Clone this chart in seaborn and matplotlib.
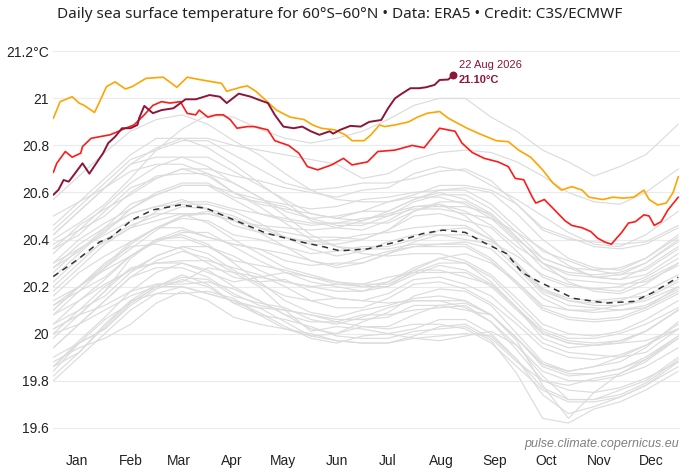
import matplotlib
matplotlib.use("Agg")
import matplotlib.pyplot as plt
import seaborn as sns
import pandas as pd

# ---------------- data ----------------
month_labels = ["Jan", "Feb", "Mar", "Apr", "May", "Jun", "Jul", "Aug", "Sep", "Oct", "Nov", "Dec"]
month_tick_days = [14, 45, 73, 104, 134, 165, 195, 226, 257, 287, 318, 348]
y_ticks = [19.6, 19.8, 20.0, 20.2, 20.4, 20.6, 20.8, 21.0, 21.2]
y_tick_labels = ["19.6", "19.8", "20", "20.2", "20.4", "20.6", "20.8", "21", "21.2°C"]

grey_days = [0, 15, 30, 45, 60, 75, 90, 105, 120, 135, 150, 165, 180, 195, 210, 225, 240, 255, 270, 285, 300, 315, 330, 345, 364]
grey_years = list(range(1979, 2024))
grey_values = [
    [19.80,19.90,20.00,20.10,20.17,20.20,20.17,20.14,20.11,20.05,19.99,19.97,19.96,19.96,19.98,19.99,20.00,19.99,19.89,19.74,19.66,19.69,19.73,19.78,19.86],
    [19.84,19.96,20.02,20.13,20.20,20.25,20.21,20.13,20.08,20.06,20.03,19.99,19.98,19.98,20.01,20.02,20.03,19.97,19.83,19.64,19.62,19.68,19.71,19.76,19.84],
    [19.86,19.92,20.04,20.14,20.21,20.22,20.28,20.26,20.20,20.10,20.01,20.03,20.02,20.00,19.98,19.97,19.99,20.01,19.95,19.82,19.72,19.72,19.76,19.80,19.90],
    [19.90,19.96,20.02,20.12,20.19,20.23,20.20,20.13,20.11,20.10,20.08,20.06,20.06,20.07,20.12,20.12,20.10,20.08,19.97,19.78,19.64,19.75,19.83,19.89,19.99],
    [20.02,20.08,20.12,20.18,20.26,20.30,20.27,20.20,20.14,20.08,20.02,20.00,20.03,20.02,20.04,20.04,20.02,19.96,19.86,19.76,19.71,19.71,19.73,19.78,19.88],
    [19.82,19.92,20.03,20.14,20.17,20.17,20.18,20.15,20.08,20.02,19.99,20.00,20.05,20.09,20.16,20.19,20.18,20.12,20.00,19.88,19.84,19.86,19.88,19.94,20.05],
    [19.88,19.94,19.98,20.04,20.13,20.18,20.14,20.07,20.04,20.02,20.00,19.97,19.96,19.96,19.99,20.03,20.04,19.98,19.88,19.80,19.76,19.75,19.77,19.81,19.88],
    [19.86,19.97,20.07,20.18,20.21,20.21,20.22,20.19,20.14,20.08,20.05,20.05,20.08,20.08,20.10,20.11,20.12,20.05,19.93,19.80,19.78,19.81,19.83,19.88,19.98],
    [19.94,20.04,20.14,20.24,20.31,20.35,20.32,20.26,20.24,20.22,20.20,20.18,20.18,20.22,20.27,20.27,20.24,20.21,20.11,19.98,19.94,19.95,19.96,19.97,20.02],
    [20.00,20.04,20.10,20.16,20.20,20.20,20.17,20.14,20.09,20.03,19.98,19.96,19.99,20.00,20.02,20.06,20.06,20.00,19.89,19.77,19.72,19.72,19.74,19.79,19.89],
    [19.86,19.96,20.06,20.13,20.20,20.24,20.23,20.16,20.13,20.11,20.06,20.04,20.07,20.11,20.14,20.14,20.14,20.08,19.98,19.86,19.82,19.83,19.85,19.89,19.98],
    [19.98,20.08,20.18,20.32,20.40,20.42,20.38,20.30,20.22,20.14,20.09,20.07,20.10,20.12,20.15,20.16,20.14,20.08,19.98,19.87,19.84,19.86,19.90,19.95,20.02],
    [20.04,20.10,20.16,20.26,20.33,20.37,20.34,20.27,20.21,20.16,20.14,20.15,20.14,20.13,20.14,20.14,20.11,20.05,19.95,19.84,19.80,19.80,19.82,19.86,19.94],
    [19.94,20.04,20.14,20.24,20.28,20.28,20.24,20.17,20.12,20.10,20.08,20.05,20.03,20.03,20.08,20.12,20.13,20.08,19.98,19.87,19.83,19.83,19.85,19.90,19.99],
    [20.00,20.10,20.20,20.27,20.30,20.31,20.31,20.28,20.25,20.20,20.14,20.11,20.11,20.15,20.21,20.22,20.19,20.13,20.04,19.94,19.90,19.89,19.91,19.95,20.04],
    [20.04,20.14,20.21,20.27,20.33,20.37,20.37,20.33,20.27,20.22,20.20,20.21,20.21,20.21,20.26,20.30,20.30,20.24,20.13,20.02,19.98,19.98,20.00,20.04,20.11],
    [20.10,20.20,20.30,20.37,20.38,20.36,20.30,20.24,20.22,20.23,20.18,20.15,20.14,20.17,20.23,20.24,20.21,20.16,20.06,19.96,19.92,19.91,19.90,19.92,20.02],
    [20.02,20.08,20.18,20.28,20.30,20.30,20.26,20.22,20.24,20.26,20.24,20.22,20.20,20.22,20.28,20.32,20.30,20.22,20.11,20.00,19.96,19.95,19.96,20.01,20.10],
    [20.08,20.18,20.28,20.38,20.45,20.50,20.51,20.48,20.46,20.45,20.44,20.45,20.48,20.52,20.57,20.60,20.57,20.51,20.41,20.30,20.25,20.24,20.25,20.30,20.40],
    [20.42,20.52,20.62,20.72,20.75,20.75,20.71,20.64,20.58,20.50,20.42,20.37,20.34,20.33,20.34,20.34,20.31,20.25,20.15,20.04,20.00,19.99,20.01,20.06,20.14],
    [20.12,20.18,20.24,20.33,20.40,20.41,20.37,20.31,20.29,20.27,20.24,20.21,20.20,20.20,20.25,20.29,20.27,20.21,20.11,20.01,19.97,19.96,19.97,20.01,20.10],
    [20.10,20.20,20.27,20.33,20.39,20.43,20.43,20.37,20.31,20.26,20.22,20.20,20.18,20.20,20.27,20.32,20.34,20.30,20.22,20.12,20.10,20.10,20.12,20.14,20.20],
    [20.16,20.26,20.33,20.39,20.45,20.49,20.48,20.42,20.40,20.37,20.31,20.29,20.32,20.35,20.37,20.38,20.39,20.36,20.26,20.15,20.10,20.09,20.10,20.12,20.19],
    [20.20,20.30,20.40,20.46,20.50,20.54,20.53,20.50,20.45,20.43,20.41,20.41,20.40,20.44,20.50,20.51,20.48,20.45,20.35,20.24,20.20,20.19,20.18,20.23,20.30],
    [20.28,20.38,20.45,20.51,20.54,20.57,20.53,20.46,20.43,20.41,20.38,20.38,20.40,20.44,20.52,20.55,20.50,20.41,20.29,20.18,20.14,20.13,20.14,20.18,20.25],
    [20.22,20.32,20.39,20.45,20.48,20.51,20.51,20.48,20.43,20.37,20.34,20.35,20.37,20.37,20.40,20.44,20.45,20.40,20.30,20.19,20.15,20.14,20.15,20.16,20.23],
    [20.24,20.34,20.44,20.51,20.54,20.55,20.55,20.52,20.47,20.41,20.36,20.33,20.35,20.39,20.42,20.42,20.40,20.38,20.28,20.17,20.12,20.11,20.10,20.11,20.18],
    [20.14,20.20,20.29,20.39,20.45,20.45,20.41,20.38,20.36,20.34,20.31,20.28,20.30,20.34,20.39,20.42,20.42,20.39,20.33,20.25,20.21,20.19,20.20,20.24,20.32],
    [20.30,20.36,20.42,20.48,20.51,20.51,20.47,20.40,20.34,20.28,20.25,20.22,20.21,20.24,20.26,20.26,20.26,20.20,20.10,20.00,19.96,19.95,19.97,20.01,20.10],
    [20.08,20.14,20.23,20.33,20.40,20.44,20.41,20.38,20.36,20.31,20.29,20.30,20.30,20.34,20.37,20.37,20.37,20.31,20.21,20.10,20.06,20.05,20.06,20.10,20.17],
    [20.18,20.28,20.38,20.45,20.52,20.56,20.56,20.53,20.51,20.49,20.47,20.47,20.49,20.50,20.56,20.59,20.59,20.53,20.43,20.32,20.28,20.27,20.28,20.32,20.41],
    [20.42,20.52,20.62,20.69,20.72,20.72,20.68,20.60,20.54,20.47,20.40,20.37,20.36,20.36,20.38,20.38,20.38,20.32,20.22,20.11,20.07,20.06,20.07,20.11,20.20],
    [20.12,20.20,20.28,20.36,20.44,20.50,20.52,20.49,20.45,20.41,20.39,20.40,20.42,20.43,20.45,20.46,20.46,20.40,20.30,20.19,20.14,20.12,20.12,20.15,20.22],
    [20.26,20.36,20.43,20.53,20.60,20.64,20.64,20.58,20.56,20.54,20.49,20.46,20.46,20.50,20.53,20.53,20.51,20.49,20.39,20.28,20.23,20.22,20.21,20.22,20.29],
    [20.30,20.40,20.47,20.53,20.59,20.63,20.63,20.57,20.51,20.48,20.46,20.47,20.47,20.47,20.52,20.56,20.56,20.50,20.40,20.32,20.28,20.24,20.23,20.28,20.37],
    [20.36,20.42,20.52,20.62,20.66,20.70,20.70,20.67,20.65,20.62,20.60,20.58,20.61,20.62,20.68,20.71,20.69,20.63,20.57,20.50,20.43,20.38,20.37,20.42,20.52],
    [20.50,20.56,20.62,20.72,20.79,20.83,20.83,20.80,20.78,20.76,20.74,20.72,20.66,20.68,20.74,20.77,20.78,20.77,20.73,20.67,20.60,20.56,20.55,20.60,20.70],
    [20.57,20.67,20.77,20.86,20.91,20.93,20.89,20.82,20.76,20.68,20.61,20.57,20.56,20.56,20.58,20.58,20.55,20.49,20.43,20.36,20.29,20.24,20.23,20.25,20.34],
    [20.34,20.44,20.54,20.64,20.71,20.75,20.75,20.69,20.63,20.57,20.51,20.49,20.48,20.51,20.54,20.54,20.54,20.51,20.41,20.30,20.22,20.18,20.17,20.21,20.30],
    [20.28,20.35,20.45,20.55,20.59,20.63,20.63,20.60,20.55,20.53,20.51,20.49,20.52,20.56,20.59,20.63,20.63,20.61,20.55,20.45,20.41,20.37,20.36,20.38,20.45],
    [20.44,20.54,20.64,20.74,20.78,20.82,20.82,20.76,20.70,20.64,20.61,20.62,20.64,20.64,20.66,20.69,20.70,20.65,20.55,20.44,20.40,20.39,20.38,20.39,20.46],
    [20.46,20.56,20.66,20.76,20.83,20.83,20.79,20.72,20.64,20.56,20.48,20.45,20.44,20.48,20.54,20.55,20.52,20.46,20.37,20.30,20.26,20.25,20.26,20.30,20.39],
    [20.38,20.44,20.50,20.60,20.67,20.68,20.68,20.64,20.58,20.52,20.49,20.50,20.52,20.52,20.57,20.61,20.61,20.55,20.45,20.35,20.31,20.27,20.25,20.27,20.36],
    [20.36,20.46,20.53,20.59,20.66,20.70,20.67,20.60,20.57,20.55,20.53,20.54,20.57,20.58,20.60,20.61,20.62,20.60,20.51,20.40,20.32,20.28,20.27,20.32,20.42],
    [20.40,20.47,20.55,20.66,20.78,20.87,20.93,20.92,20.87,20.83,20.81,20.83,20.86,20.91,20.97,21.00,21.00,20.92,20.86,20.78,20.73,20.67,20.71,20.76,20.89],
]

clim_days = [0, 14, 27, 33, 46, 58, 74, 89, 105, 124, 144, 157, 167, 183, 200, 215, 227, 240, 250, 264, 273, 283, 303, 322, 338, 349, 364]
clim_values = [20.243, 20.314, 20.39, 20.406, 20.484, 20.526, 20.547, 20.533, 20.484, 20.427, 20.39, 20.37, 20.352,
               20.36, 20.39, 20.425, 20.44, 20.43, 20.39, 20.34, 20.26, 20.22, 20.15, 20.13, 20.137, 20.174, 20.24]

y2024_days = [0, 4, 11, 15, 18, 24, 27, 31, 36, 42, 46, 54, 64, 72, 78, 85, 93, 98, 101, 109, 113, 118, 124, 130, 138,
              146, 151, 156, 164, 170, 174, 181, 185, 190, 193, 199, 207, 212, 218, 225, 230, 234, 241, 248, 258, 265,
              271, 278, 285, 291, 296, 302, 308, 312, 320, 326, 332, 338, 344, 347, 352, 357, 361, 364]
y2024_values = [20.915, 20.986, 21.007, 20.98, 20.97, 20.94, 20.986, 21.05, 21.07, 21.04, 21.05, 21.085, 21.09, 21.047,
                21.09, 21.08, 21.07, 21.064, 21.03, 21.047, 21.053, 21.03, 20.99, 20.95, 20.92, 20.91, 20.887, 20.873,
                20.866, 20.845, 20.82, 20.82, 20.845, 20.887, 20.88, 20.887, 20.9, 20.92, 20.937, 20.944, 20.916, 20.9,
                20.873, 20.85, 20.82, 20.816, 20.78, 20.75, 20.696, 20.64, 20.61, 20.625, 20.61, 20.58, 20.57, 20.58,
                20.576, 20.58, 20.61, 20.57, 20.547, 20.555, 20.6, 20.667]

y2025_days = [0, 2, 7, 11, 16, 17, 22, 27, 33, 38, 42, 47, 53, 58, 63, 68, 74, 78, 83, 85, 90, 95, 99, 103, 107, 113,
              117, 125, 129, 137, 143, 148, 154, 162, 169, 174, 183, 189, 199, 209, 216, 225, 234, 238, 244, 251, 259,
              265, 269, 274, 279, 281, 286, 291, 298, 302, 308, 313, 317, 321, 325, 331, 335, 339, 344, 347, 350, 354,
              358, 364]
y2025_values = [20.685, 20.724, 20.774, 20.75, 20.767, 20.795, 20.83, 20.837, 20.845, 20.86, 20.873, 20.887, 20.93,
                20.97, 20.986, 20.98, 20.986, 20.936, 20.93, 20.95, 20.92, 20.93, 20.93, 20.91, 20.873, 20.88, 20.88,
                20.866, 20.82, 20.8, 20.767, 20.71, 20.696, 20.717, 20.745, 20.717, 20.73, 20.774, 20.78, 20.8, 20.79,
                20.873, 20.86, 20.81, 20.77, 20.745, 20.73, 20.71, 20.66, 20.654, 20.58, 20.555, 20.57, 20.533, 20.48,
                20.46, 20.45, 20.434, 20.406, 20.39, 20.38, 20.43, 20.47, 20.476, 20.505, 20.5, 20.46, 20.476, 20.526,
                20.58]

y2026_days = [0, 3, 6, 9, 12, 17, 21, 25, 29, 32, 36, 40, 45, 49, 50, 53, 58, 63, 70, 77, 83, 91, 97, 101, 108, 115,
              120, 125, 129, 134, 140, 145, 150, 155, 161, 163, 167, 173, 179, 184, 191, 195, 199, 203, 208, 213, 217,
              222, 225, 230, 233]
y2026_values = [20.59, 20.611, 20.653, 20.646, 20.675, 20.724, 20.68, 20.724, 20.767, 20.81, 20.837, 20.873, 20.873,
                20.887, 20.916, 20.968, 20.937, 20.95, 20.958, 20.996, 20.996, 21.014, 21.007, 20.98, 21.02, 21.007,
                20.993, 20.98, 20.93, 20.88, 20.873, 20.88, 20.86, 20.845, 20.86, 20.85, 20.866, 20.883, 20.88, 20.9,
                20.908, 20.958, 21.0, 21.02, 21.043, 21.043, 21.047, 21.057, 21.078, 21.08, 21.10]

title_text = "Daily sea surface temperature for 60°S–60°N • Data: ERA5 • Credit: C3S/ECMWF"
last_date_text = "22 Aug 2026"
last_value_text = "21.10°C"
footer_text = "pulse.climate.copernicus.eu"

# ---------------- styling ----------------
sns.set_theme(style="white")
plt.rcParams["font.family"] = ["Liberation Sans", "DejaVu Sans"]

C_GREY = "#dcdcdc"
C_ORANGE = "#ffa500"
C_RED = "#ff1a1a"
C_DARK = "#8c1538"

fig = plt.figure(figsize=(6.8, 4.76), dpi=100)
ax = fig.add_axes([53.3 / 680, 36 / 476, 626.7 / 680, 400 / 476])

rows = []
for yr, vals in zip(grey_years, grey_values):
    for d, v in zip(grey_days, vals):
        rows.append({"year": yr, "day": d, "sst": v})
grey_df = pd.DataFrame(rows)

sns.lineplot(data=grey_df, x="day", y="sst", units="year", estimator=None,
             color=C_GREY, linewidth=0.85, ax=ax, legend=False, zorder=2)

sns.lineplot(x=clim_days, y=clim_values, color="#333333", linewidth=1.1, ax=ax, zorder=3)
ax.get_lines()[-1].set_dashes([4, 3.2])

sns.lineplot(x=y2024_days, y=y2024_values, color=C_ORANGE, linewidth=1.2, ax=ax, zorder=4)
sns.lineplot(x=y2025_days, y=y2025_values, color=C_RED, linewidth=1.2, ax=ax, zorder=5)
sns.lineplot(x=y2026_days, y=y2026_values, color=C_DARK, linewidth=1.4, ax=ax, zorder=6)

ax.scatter([y2026_days[-1]], [y2026_values[-1]], s=22, color=C_DARK, zorder=7)
ax.text(y2026_days[-1] + 3.3, 21.142, last_date_text, color=C_DARK, fontsize=8, ha="left", va="center")
ax.text(y2026_days[-1] + 3.3, 21.078, last_value_text, color=C_DARK, fontsize=8, fontweight="bold",
        ha="left", va="center")

ax.set_xlim(0, 365)
ax.set_ylim(19.548, 21.248)
ax.set_yticks(y_ticks)
ax.set_yticklabels(y_tick_labels)
ax.set_xticks(month_tick_days)
ax.set_xticklabels(month_labels)
ax.tick_params(axis="both", length=0, labelsize=10, labelcolor="#222222")
ax.tick_params(axis="y", pad=3)
ax.tick_params(axis="x", pad=10)
ax.set_xlabel("")
ax.set_ylabel("")
ax.grid(False)
ax.yaxis.grid(True, color="#ebebeb", linewidth=0.8)
ax.set_axisbelow(True)
for s in ax.spines.values():
    s.set_visible(False)

fig.text(0.5, 1 - 15 / 476, title_text, ha="center", va="center", fontsize=11,
         color="#222222", family=["Noto Sans", "DejaVu Sans"])
fig.text(679 / 680, 1 - 444 / 476, footer_text, ha="right", va="center", fontsize=9,
         style="italic", color="#808080")

fig.savefig("out.png", dpi=100)
